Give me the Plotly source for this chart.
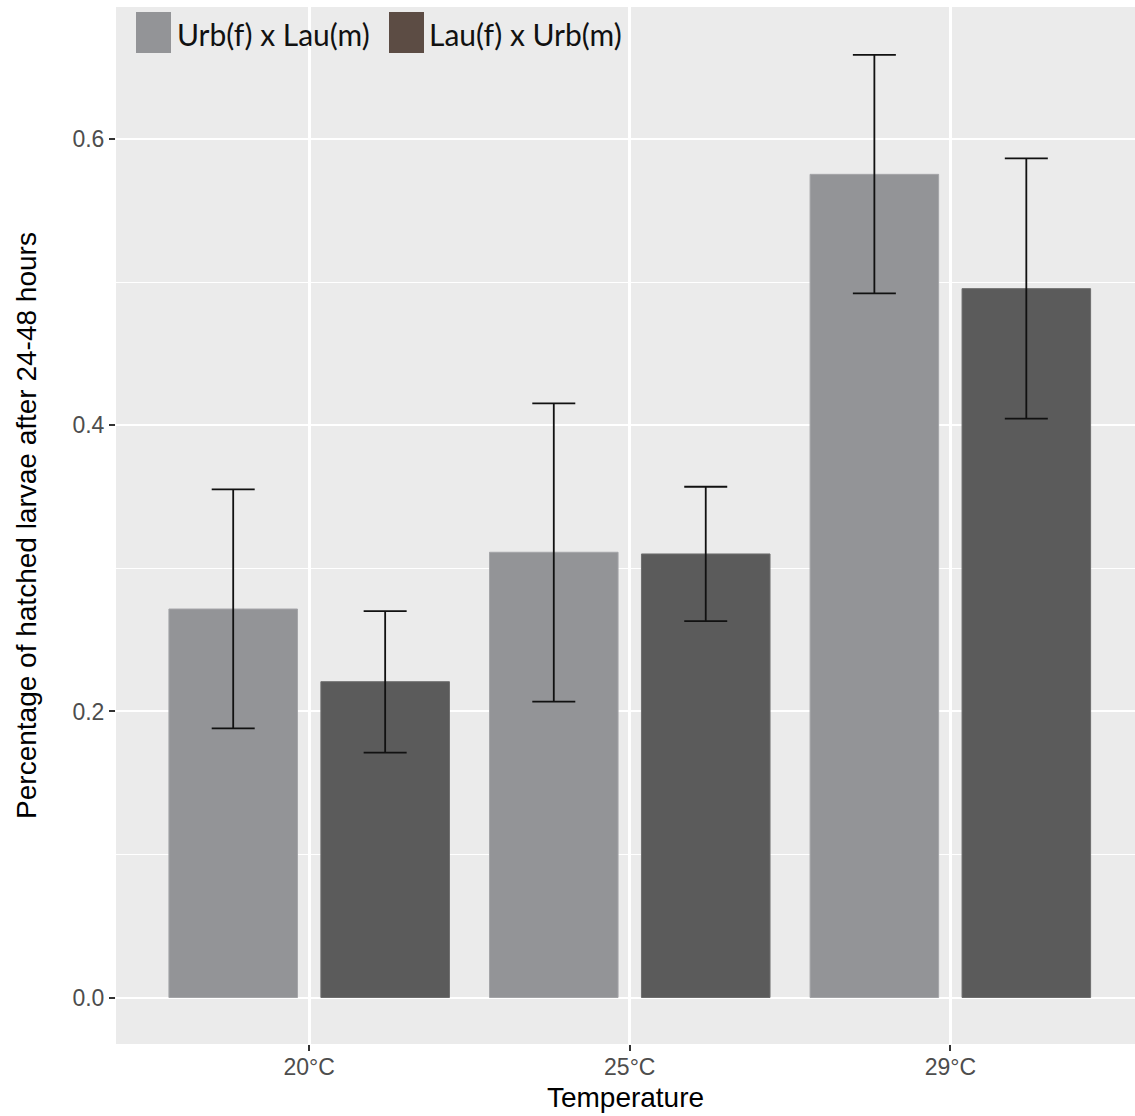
import plotly.graph_objects as go

categories = ["20°C", "25°C", "29°C"]
series_names = ["Urb(f) x Lau(m)", "Lau(f) x Urb(m)"]
urb_lau_mean = [0.2716, 0.3113, 0.5755]
urb_lau_upper = [0.3553, 0.4154, 0.6590]
urb_lau_lower = [0.1882, 0.2068, 0.4923]
lau_urb_mean = [0.2208, 0.3101, 0.4956]
lau_urb_upper = [0.2702, 0.3571, 0.5867]
lau_urb_lower = [0.1712, 0.2632, 0.4047]
y_ticks = [0.0, 0.2, 0.4, 0.6]
y_ticktext = ["0.0", "0.2", "0.4", "0.6"]

bar_colors = ["#939497", "#5b5b5b"]
legend_colors = ["#939497", "#5c4c44"]

def err(mean, upper, lower):
    return dict(type="data", symmetric=False,
                array=[u - m for u, m in zip(upper, mean)],
                arrayminus=[m - l for m, l in zip(mean, lower)],
                color="#111111", thickness=1.8, width=21.5)

fig = go.Figure()
fig.add_trace(go.Bar(x=categories, y=urb_lau_mean, name=series_names[0],
                     marker=dict(color=bar_colors[0], line=dict(color="#a4a5a8", width=1)),
                     error_y=err(urb_lau_mean, urb_lau_upper, urb_lau_lower),
                     showlegend=False))
fig.add_trace(go.Bar(x=categories, y=lau_urb_mean, name=series_names[1],
                     marker=dict(color=bar_colors[1], line=dict(color="#6e6e6e", width=1)),
                     error_y=err(lau_urb_mean, lau_urb_upper, lau_urb_lower),
                     showlegend=False))

W, H = 1135, 1116
ml, mr, mt, mb = 116, 0, 7, 72
pw, ph = W - ml - mr, H - mt - mb

def px_x(p):
    return (p - ml) / pw

def px_y(p):
    return (H - mb - p) / ph

# legend drawn as keys + labels (paper coordinates)
key_left = [136, 389]
text_left = [175, 427]
shapes = []
annotations = []
for i in range(2):
    shapes.append(dict(type="rect", xref="paper", yref="paper",
                       x0=px_x(key_left[i]), x1=px_x(key_left[i] + 35),
                       y0=px_y(53), y1=px_y(12),
                       fillcolor=legend_colors[i], line=dict(width=0), layer="above"))
    annotations.append(dict(xref="paper", yref="paper", x=px_x(text_left[i]), y=px_y(34),
                            text=series_names[i], showarrow=False, xanchor="left", yanchor="middle",
                            font=dict(family="Lato", size=30, color="#111111")))

fig.update_layout(
    width=W, height=H,
    margin=dict(l=ml, r=mr, t=mt, b=mb, pad=0),
    paper_bgcolor="white", plot_bgcolor="#EBEBEB",
    barmode="group", bargap=0.052, bargroupgap=0.154,
    font=dict(family="Liberation Sans", color="#000000"),
    shapes=shapes, annotations=annotations,
    xaxis=dict(range=[-0.6026, 2.576], showgrid=True, gridcolor="white", gridwidth=2.6,
               ticks="outside", ticklen=6, tickwidth=2, tickcolor="#333333",
               tickfont=dict(size=23, color="#4D4D4D"), zeroline=False, showline=False,
               ticklabelstandoff=-4,
               title=dict(text="Temperature", font=dict(size=28, color="#000000"), standoff=8),
               fixedrange=True),
    yaxis=dict(range=[-0.0325, 0.6925], tickvals=y_ticks, ticktext=y_ticktext,
               showgrid=True, gridcolor="white", gridwidth=2.4,
               minor=dict(dtick=0.1, tick0=0, showgrid=True, gridcolor="white", gridwidth=1.4),
               ticks="outside", ticklen=6, tickwidth=2, tickcolor="#333333",
               tickfont=dict(size=23, color="#4D4D4D"), zeroline=False, showline=False,
               title=dict(text="Percentage of hatched larvae after 24-48 hours",
                          font=dict(size=28, color="#000000"), standoff=27),
               fixedrange=True),
)

fig.write_html("out.html")
